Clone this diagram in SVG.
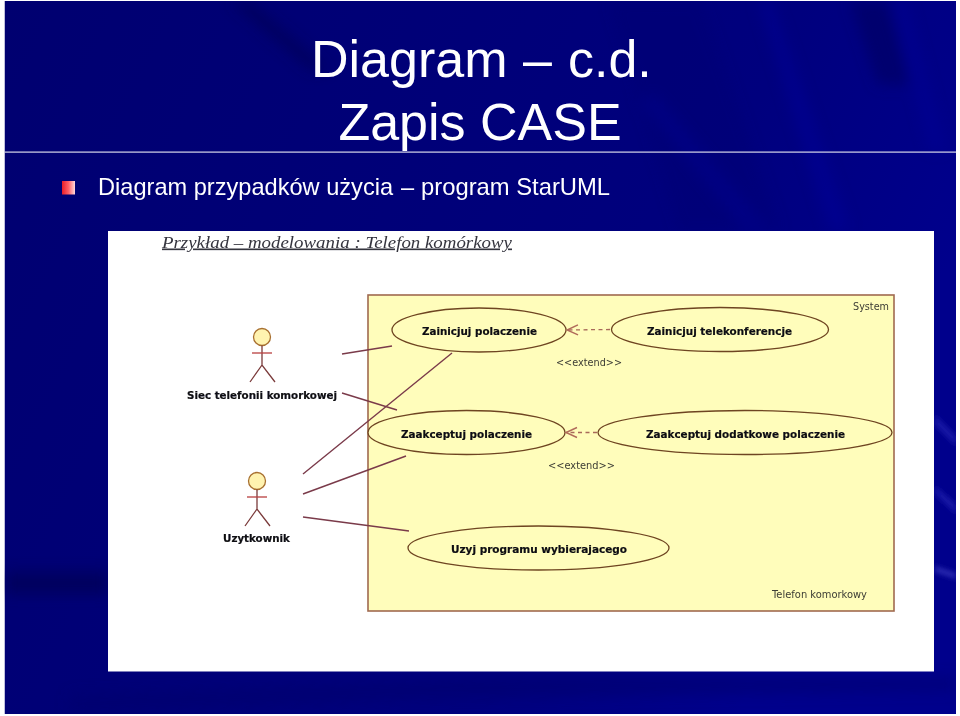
<svg xmlns="http://www.w3.org/2000/svg" width="960" height="716" viewBox="0 0 960 716">
<style>
.h{font-family:"Liberation Sans",Arial,sans-serif;fill:#fff}
.uc{fill:#fffdbb;stroke:#6e4420;stroke-width:1.3}
.ul{font-family:"DejaVu Sans",sans-serif;font-weight:bold;font-size:10.5px;fill:#0c0c12;stroke:#0c0c12;stroke-width:.2}
.nt{font-family:"DejaVu Sans",sans-serif;font-size:10.5px;fill:#3c3c34}
.a{fill:none;stroke:#7a3a3a;stroke-width:1.3}
.as{stroke:#7a3a4a;stroke-width:1.4;fill:none}
</style>
<defs>
<linearGradient id="bg" x1="0" y1="0" x2="1" y2="0.35"><stop offset="0" stop-color="#000070"/><stop offset="0.45" stop-color="#000078"/><stop offset="0.75" stop-color="#00007e"/><stop offset="1" stop-color="#00008c"/></linearGradient>
<linearGradient id="bul" x1="0" y1="0" x2="1" y2="0"><stop offset="0" stop-color="#e81c28"/><stop offset="0.5" stop-color="#ff5f66"/><stop offset="1" stop-color="#ffd8dc"/></linearGradient>
<filter id="b" x="-30%" y="-30%" width="160%" height="160%"><feGaussianBlur stdDeviation="7"/></filter>
<filter id="b2" x="-30%" y="-30%" width="160%" height="160%"><feGaussianBlur stdDeviation="2.500"/></filter>
<filter id="soft" x="-2%" y="-2%" width="104%" height="104%"><feGaussianBlur stdDeviation="0.400"/></filter>
<marker id="open" markerWidth="14" markerHeight="14" refX="12" refY="6" orient="auto" markerUnits="userSpaceOnUse"><path d="M1 1 L12 6 L1 11" fill="none" stroke="#b06a5a" stroke-width="1.400"/></marker>
</defs>
<rect width="960" height="716" fill="#fff"/>
<g id="background">
<rect x="4.500" y="1" width="951.500" height="713" fill="url(#bg)"/>
<g filter="url(#b)">
<polygon points="850,1 888,1 910,85 878,85" fill="#000060" opacity=".6"/>
<polygon points="758,1 772,1 850,231 830,231" fill="#00009c" opacity=".45"/>
<polygon points="893,1 906,1 945,150 930,150" fill="#000098" opacity=".5"/>
<polygon points="640,100 655,95 770,231 745,231" fill="#00009c" opacity=".5"/>
<polygon points="610,1 700,1 780,231 680,231" fill="#00006c" opacity=".3"/>
<polygon points="230,1 250,1 330,70 310,70" fill="#000050" opacity=".55"/>
<polygon points="5,572 108,572 108,594 5,594" fill="#000058" opacity=".8"/>
<polygon points="70,695 560,674 956,678 956,690 400,700 70,714" fill="#00006c" opacity=".5"/>
</g>
<g filter="url(#b2)">
<polygon points="935,415 956,436 956,446 935,425" fill="#2a2ab8" opacity=".6"/>
<polygon points="935,486 956,504 956,514 935,494" fill="#2a2ab8" opacity=".6"/>
<polygon points="935,566 956,573 956,579 935,572" fill="#3a3ac0" opacity=".7"/>
</g>
</g>
<rect x="0" y="0" width="4.500" height="716" fill="#fff"/>
<rect x="956" y="0" width="4" height="716" fill="#fff"/>
<rect x="0" y="0" width="960" height="1" fill="#fff"/>
<rect x="0" y="714" width="960" height="2" fill="#fff"/>
<g id="title">
<text class="h" x="311" y="77" font-size="52">Diagram</text>
<text class="h" x="523" y="77" font-size="52">–</text>
<text class="h" x="568" y="77" font-size="52">c.d.</text>
<text class="h" x="480" y="140" font-size="52" text-anchor="middle">Zapis CASE</text>
<rect x="4.500" y="151.500" width="951.500" height="1.200" fill="#d8d8ea"/>
</g>
<g id="bullet">
<rect x="62" y="181" width="13" height="13.500" fill="url(#bul)"/>
<text class="h" x="98" y="195" font-size="23.600">Diagram przypadków użycia</text>
<text class="h" x="401" y="195" font-size="23.600">–</text>
<text class="h" x="421" y="195" font-size="23.800">program StarUML</text>
</g>
<g id="picture">
<rect x="108" y="231" width="826" height="440.500" fill="#fff"/>
<g filter="url(#soft)">
<text x="162" y="247.500" font-family="Liberation Serif,serif" font-style="italic" font-size="16.500" fill="#34343e" text-decoration="underline" textLength="350" lengthAdjust="spacingAndGlyphs">Przykład – modelowania : Telefon komórkowy</text>
<g id="system">
<rect x="368" y="295" width="526" height="316" fill="#fffdbb" stroke="#a06a50" stroke-width="1.600"/>
<text class="nt" x="853" y="310" textLength="36" lengthAdjust="spacingAndGlyphs">System</text>
<text class="nt" x="772" y="598" textLength="95" lengthAdjust="spacingAndGlyphs">Telefon komorkowy</text>
</g>
<g id="uc1"><ellipse class="uc" cx="479" cy="330" rx="87" ry="22"/><text class="ul" x="422" y="335" textLength="115" lengthAdjust="spacingAndGlyphs">Zainicjuj polaczenie</text></g>
<g id="uc2"><ellipse class="uc" cx="720" cy="329.500" rx="108.500" ry="22"/><text class="ul" x="647" y="335" textLength="145" lengthAdjust="spacingAndGlyphs">Zainicjuj telekonferencje</text></g>
<g id="uc3"><ellipse class="uc" cx="466.500" cy="432.500" rx="98.500" ry="22"/><text class="ul" x="401" y="438" textLength="131" lengthAdjust="spacingAndGlyphs">Zaakceptuj polaczenie</text></g>
<g id="uc4"><ellipse class="uc" cx="745" cy="432.500" rx="147" ry="22"/><text class="ul" x="646" y="438" textLength="199" lengthAdjust="spacingAndGlyphs">Zaakceptuj dodatkowe polaczenie</text></g>
<g id="uc5"><ellipse class="uc" cx="538.500" cy="548" rx="130.500" ry="22"/><text class="ul" x="451" y="553" textLength="176" lengthAdjust="spacingAndGlyphs">Uzyj programu wybierajacego</text></g>
<g id="connectors">
<line class="as" x1="342" y1="354" x2="392" y2="346"/>
<line class="as" x1="342" y1="393" x2="397" y2="410"/>
<line class="as" x1="303" y1="474" x2="452" y2="353"/>
<line class="as" x1="303" y1="494" x2="406" y2="456"/>
<line class="as" x1="303" y1="517" x2="409" y2="531"/>
<line x1="610" y1="329.500" x2="567" y2="330" stroke="#a86a5a" stroke-width="1.300" stroke-dasharray="4 3.500" marker-end="url(#open)"/>
<line x1="597" y1="432.500" x2="566" y2="432.500" stroke="#a86a5a" stroke-width="1.300" stroke-dasharray="4 3.500" marker-end="url(#open)"/>
<text class="nt" x="556" y="366" textLength="66" lengthAdjust="spacingAndGlyphs">&lt;&lt;extend&gt;&gt;</text>
<text class="nt" x="548" y="469" textLength="67" lengthAdjust="spacingAndGlyphs">&lt;&lt;extend&gt;&gt;</text>
</g>
<g id="actor1">
<circle cx="262" cy="337" r="8.500" fill="#fff3b0" stroke="#a87030" stroke-width="1.300"/>
<path class="a" d="M262 345.500V365M250 382L262 365L275 382"/><line x1="252" y1="353" x2="272" y2="353" stroke="#b84040" stroke-width="1.300"/>
<text class="ul" x="187" y="399" textLength="150" lengthAdjust="spacingAndGlyphs">Siec telefonii komorkowej</text>
</g>
<g id="actor2">
<circle cx="257" cy="481" r="8.500" fill="#fff3b0" stroke="#a87030" stroke-width="1.300"/>
<path class="a" d="M257 489.500V509M245 526L257 509L270 526"/><line x1="247" y1="497" x2="267" y2="497" stroke="#b84040" stroke-width="1.300"/>
<text class="ul" x="223" y="542" textLength="67" lengthAdjust="spacingAndGlyphs">Uzytkownik</text>
</g>
</g>
</g>
</svg>
